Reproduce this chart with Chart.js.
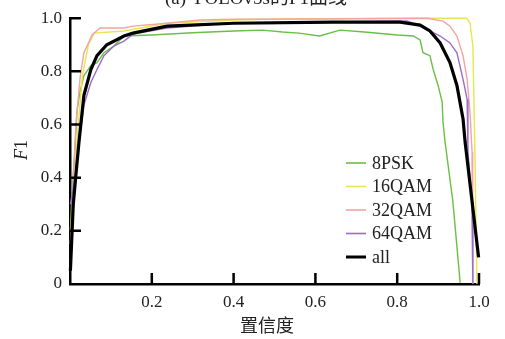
<!DOCTYPE html>
<html>
<head>
<meta charset="utf-8">
<script src="https://cdn.jsdelivr.net/npm/chart.js@4.4.1/dist/chart.umd.min.js"></script>
<style>
  html, body { margin: 0; padding: 0; background: #fff; }
  #wrap { width: 505px; height: 339px; }
</style>
</head>
<body>
<div id="wrap"><canvas id="chart"></canvas></div>
<script>
// [confidence, F1] pairs
const psk8 = [
  [0.001, 0.2], [0.005, 0.35], [0.012, 0.5], [0.017, 0.65], [0.024, 0.72],
  [0.034, 0.784], [0.051, 0.822], [0.066, 0.833], [0.083, 0.87], [0.108, 0.896],
  [0.132, 0.933], [0.2, 0.937], [0.3, 0.945], [0.4, 0.952], [0.47, 0.955],
  [0.52, 0.948], [0.56, 0.944], [0.61, 0.933], [0.66, 0.955], [0.72, 0.948],
  [0.8, 0.937], [0.839, 0.933], [0.856, 0.918], [0.863, 0.87], [0.88, 0.859],
  [0.888, 0.807], [0.9, 0.747], [0.91, 0.684], [0.912, 0.61], [0.917, 0.535],
  [0.936, 0.312], [0.954, 0.004],
];
const qam16 = [
  [0.001, 0.08], [0.008, 0.3], [0.017, 0.535], [0.03, 0.78], [0.045, 0.9],
  [0.059, 0.944], [0.132, 0.952], [0.237, 0.981], [0.4, 0.993], [0.5, 0.997],
  [0.6, 0.998], [0.856, 1.0], [0.97, 1.0], [0.978, 0.981], [0.985, 0.896],
  [0.99, 0.5], [0.995, 0.0],
];
const qam32 = [
  [0.001, 0.15], [0.008, 0.4], [0.015, 0.61], [0.025, 0.78], [0.034, 0.87],
  [0.042, 0.896], [0.054, 0.937], [0.073, 0.963], [0.132, 0.963], [0.154, 0.97],
  [0.237, 0.981], [0.318, 0.993], [0.4, 0.996], [0.6, 0.997], [0.873, 1.0],
  [0.912, 0.989], [0.929, 0.97], [0.946, 0.933], [0.961, 0.859], [0.971, 0.77],
  [0.978, 0.647], [0.983, 0.498], [0.984, 0.3], [0.985, 0.0],
];
const qam64 = [
  [0.001, 0.3], [0.012, 0.4], [0.022, 0.535], [0.034, 0.673], [0.051, 0.758],
  [0.066, 0.807], [0.083, 0.859], [0.108, 0.896], [0.132, 0.914], [0.154, 0.94],
  [0.237, 0.963], [0.384, 0.981], [0.6, 0.985], [0.824, 0.99], [0.856, 0.97],
  [0.88, 0.952], [0.905, 0.933], [0.929, 0.907], [0.946, 0.87], [0.961, 0.77],
  [0.971, 0.695], [0.973, 0.498], [0.983, 0.3], [0.985, 0.0],
];
const allClasses = [
  [0.001, 0.05], [0.008, 0.3], [0.015, 0.42], [0.022, 0.535], [0.034, 0.71],
  [0.051, 0.807], [0.066, 0.859], [0.09, 0.9], [0.132, 0.933], [0.154, 0.944],
  [0.237, 0.97], [0.4, 0.981], [0.643, 0.985], [0.807, 0.985], [0.84, 0.978],
  [0.856, 0.974], [0.88, 0.952], [0.905, 0.907], [0.929, 0.833], [0.946, 0.747],
  [0.961, 0.621], [0.966, 0.535], [0.999, 0.1],
];

const seriesNames = ['8PSK', '16QAM', '32QAM', '64QAM', 'all'];
const seriesData = [psk8, qam16, qam32, qam64, allClasses];
const seriesColors = ['#6cbf45', '#e8e64c', '#f4a3a3', '#9a6dc6', '#000000'];
const seriesWidths = [1.4, 1.4, 1.4, 1.4, 3.2];

const xTicks = [0, 0.2, 0.4, 0.6, 0.8, 1.0];
const yTicks = [0, 0.2, 0.4, 0.6, 0.8, 1.0];

const chartTitle = '(a) YOLOv5s的F1曲线';
const xTitle = '置信度';

const serif = '"Liberation Serif", "Times New Roman", serif';

// inward tick marks, titles and legend
const decorPlugin = {
  id: 'decor',
  afterDraw(chart) {
    const { ctx, chartArea } = chart;
    const xs = chart.scales.x;
    const ys = chart.scales.y;
    ctx.save();
    ctx.strokeStyle = '#000';
    ctx.lineWidth = 2.5;
    ctx.beginPath();
    yTicks.forEach((v) => {
      if (v === 0) return;
      const py = ys.getPixelForValue(v);
      ctx.moveTo(chartArea.left, py);
      ctx.lineTo(chartArea.left + 11, py);
    });
    xTicks.forEach((v) => {
      if (v === 0) return;
      const px = xs.getPixelForValue(v);
      ctx.moveTo(px, chartArea.bottom);
      ctx.lineTo(px, chartArea.bottom - 11);
    });
    ctx.stroke();

    // title, cut off at the top edge
    ctx.fillStyle = '#222';
    ctx.font = '19px ' + serif + ', "Noto Sans CJK SC"';
    ctx.textAlign = 'center';
    ctx.textBaseline = 'alphabetic';
    ctx.fillText(chartTitle, 256, 4);

    // x axis title
    ctx.font = '18px "Noto Sans CJK SC"';
    ctx.textBaseline = 'middle';
    ctx.fillText(xTitle, 267, 325);

    // y axis title: italic F + 1
    ctx.save();
    ctx.translate(22, 150);
    ctx.rotate(-Math.PI / 2);
    ctx.textAlign = 'left';
    ctx.font = 'italic 18px ' + serif;
    const fW = ctx.measureText('F').width;
    ctx.font = '18px ' + serif;
    const oneW = ctx.measureText('1').width;
    const start = -(fW + oneW) / 2;
    ctx.font = 'italic 18px ' + serif;
    ctx.fillText('F', start, 0);
    ctx.font = '18px ' + serif;
    ctx.fillText('1', start + fW, 0);
    ctx.restore();

    // legend
    ctx.font = '18px ' + serif;
    ctx.textAlign = 'left';
    ctx.textBaseline = 'middle';
    seriesNames.forEach((name, i) => {
      const y = 163 + i * 23.5;
      ctx.strokeStyle = seriesColors[i];
      ctx.lineWidth = i === 4 ? 3 : 1.6;
      ctx.beginPath();
      ctx.moveTo(346, y);
      ctx.lineTo(366, y);
      ctx.stroke();
      ctx.fillStyle = '#222';
      ctx.fillText(name, 372, y + 1);
    });
    ctx.restore();
  },
};

new Chart(document.getElementById('chart'), {
  type: 'line',
  data: {
    datasets: seriesNames.map((name, i) => ({
      label: name,
      data: seriesData[i].map((p) => ({ x: p[0], y: p[1] })),
      borderColor: seriesColors[i],
      borderWidth: seriesWidths[i],
      pointRadius: 0,
      tension: 0,
      fill: false,
      clip: false,
      order: i === 4 ? 0 : 5 - i,
    })),
  },
  options: {
    responsive: true,
    maintainAspectRatio: false,
    animation: false,
    layout: {
      padding: { top: 15, right: 26, left: 0, bottom: 0 },
    },
    plugins: {
      legend: { display: false },
      tooltip: { enabled: false },
      title: { display: false },
    },
    scales: {
      x: {
        type: 'linear',
        min: 0,
        max: 1,
        afterFit: (scale) => { scale.height = 55; },
        afterBuildTicks: (scale) => { scale.ticks = xTicks.map((v) => ({ value: v })); },
        grid: { display: false, drawTicks: false },
        border: { display: true, color: '#000', width: 2.5 },
        ticks: {
          padding: 8,
          color: '#222',
          font: { family: serif, size: 17 },
          callback: (v) => (v === 0 ? '' : v.toFixed(1)),
        },
      },
      y: {
        type: 'linear',
        min: 0,
        max: 1,
        afterFit: (scale) => { scale.width = 70; },
        afterBuildTicks: (scale) => { scale.ticks = yTicks.map((v) => ({ value: v })); },
        grid: { display: false, drawTicks: false },
        border: { display: true, color: '#000', width: 2.5 },
        ticks: {
          padding: 8,
          color: '#222',
          font: { family: serif, size: 17 },
          callback: (v) => (v === 0 ? '0' : v.toFixed(1)),
        },
      },
    },
  },
  plugins: [decorPlugin],
});
</script>
</body>
</html>
